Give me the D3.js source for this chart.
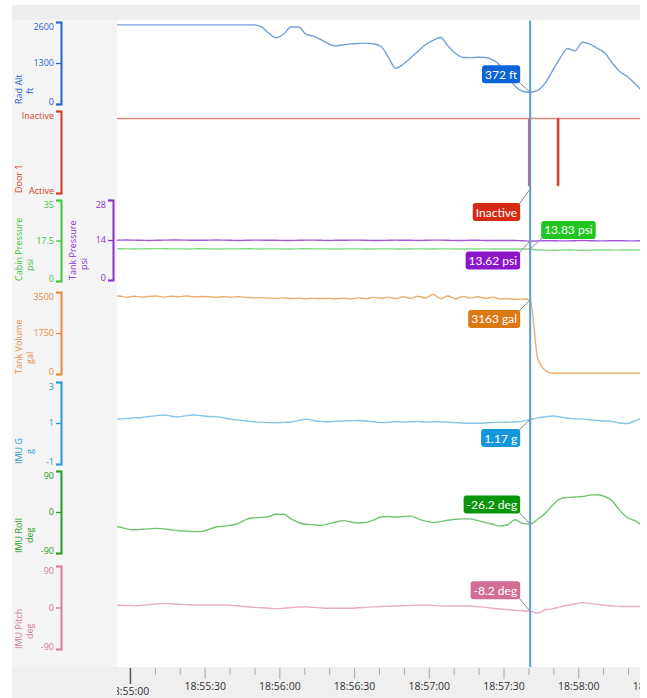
<!DOCTYPE html>
<html>
<head>
<meta charset="utf-8">
<script src="https://cdn.jsdelivr.net/npm/d3@7"></script>
<style>
  body { margin: 0; background: #fff; }
  svg { display: block; font-family: "Open Sans", sans-serif; }
</style>
</head>
<body>
<div id="chart"></div>
<script>
// ---- data (one sample every 3 s, first sample at 18:54:52.5) ----
const day = "2021-01-01T";
const sampleStart = "18:54:52.500";
const sampleStepMs = 3000;
const cursorTime = "18:57:40.500";
const viewStart = "18:54:54.600";
const viewEnd = "18:58:24.600";
const timeTicks = ["18:55:00", "18:55:30", "18:56:00", "18:56:30", "18:57:00", "18:57:30", "18:58:00", "18:58:30"];

const radAlt = [2510, 2510, 2510, 2510, 2510, 2510, 2510, 2510, 2510, 2510, 2510, 2510,
  2510, 2510, 2510, 2510, 2510, 2510, 2510, 2510, 2450, 2250, 2100, 2220,
  2440, 2440, 2210, 2150, 2040, 1910, 1840, 1880, 1905, 1920, 1930, 1910,
  1830, 1500, 1130, 1260, 1460, 1675, 1885, 2015, 2110, 1840, 1605, 1475,
  1470, 1480, 1475, 1400, 1220, 885, 565, 405, 372, 430, 660, 1055,
  1455, 1760, 1685, 1960, 1900, 1765, 1615, 1290, 1030, 870, 650, 410];

const doorTimes = ["18:54:50", "18:57:39.900", "18:57:40.300", "18:57:51.400", "18:57:51.800", "18:58:30"];
const doorStates = [1, 0, 1, 0, 1, 1];   // 1 = Inactive, 0 = Active
const doorStateNames = ["Active", "Inactive"];

const cabinPressure = [13.9, 13.95, 13.9, 13.85, 13.9, 13.95, 14.0, 13.95, 13.9, 13.9, 13.85, 13.9,
  13.95, 13.9, 13.85, 13.85, 13.9, 13.9, 13.95, 13.9, 13.85, 13.9, 13.9, 13.85,
  13.85, 13.9, 13.95, 13.9, 13.9, 13.85, 13.8, 13.85, 13.9, 13.9, 13.85, 13.85,
  13.9, 13.9, 13.85, 13.8, 13.85, 13.9, 13.85, 13.85, 13.9, 13.9, 13.85, 13.8,
  13.85, 13.85, 13.9, 13.85, 13.85, 13.8, 13.85, 13.85, 13.83, 13.4, 13.35, 13.3,
  13.35, 13.4, 13.35, 13.3, 13.35, 13.4, 13.4, 13.35, 13.35, 13.4, 13.35, 13.4];

const tankPressure = [13.9, 13.95, 14.0, 13.95, 13.9, 13.85, 13.9, 13.95, 14.0, 14.0, 13.95, 13.9,
  13.9, 13.95, 14.0, 13.95, 13.9, 13.85, 13.9, 13.95, 13.95, 13.9, 13.9, 13.85,
  13.85, 13.9, 13.95, 13.95, 13.9, 13.85, 13.9, 13.9, 13.95, 13.95, 13.9, 13.85,
  13.85, 13.9, 13.95, 13.9, 13.9, 13.85, 13.9, 13.95, 13.95, 13.9, 13.85, 13.85,
  13.9, 13.9, 13.85, 13.8, 13.85, 13.85, 13.8, 13.75, 13.62, 13.7, 13.75, 13.75,
  13.7, 13.7, 13.75, 13.8, 13.75, 13.7, 13.7, 13.75, 13.75, 13.7, 13.7, 13.75];

const tankVolume = [3290, 3330, 3270, 3320, 3280, 3310, 3330, 3280, 3320, 3300, 3330, 3290,
  3310, 3300, 3270, 3300, 3280, 3300, 3270, 3250, 3260, 3240, 3230, 3250,
  3220, 3240, 3210, 3230, 3220, 3230, 3210, 3240, 3200, 3250, 3220, 3270,
  3230, 3280, 3220, 3300, 3230, 3320, 3250, 3400, 3220, 3330, 3210, 3310,
  3240, 3300, 3230, 3280, 3200, 3210, 3190, 3200, 3163, 680, 160, 30,
  30, 30, 30, 30, 30, 30, 30, 30, 30, 30, 30, 30];

const imuG = [1.2, 1.2, 1.22, 1.25, 1.27, 1.32, 1.36, 1.39, 1.33, 1.3, 1.36, 1.39,
  1.36, 1.32, 1.31, 1.25, 1.18, 1.14, 1.1, 1.06, 1.03, 1.02, 1.015, 1.03,
  1.05, 1.12, 1.19, 1.12, 1.07, 1.06, 1.08, 1.1, 1.11, 1.12, 1.1, 1.06,
  1.02, 1.03, 1.06, 1.05, 1.06, 1.07, 1.05, 1.06, 1.05, 1.04, 1.02, 1.0,
  0.99, 0.985, 1.0, 1.03, 1.03, 1.04, 1.05, 1.09, 1.17, 1.25, 1.3, 1.34,
  1.3, 1.23, 1.21, 1.19, 1.16, 1.12, 1.1, 1.07, 1.0, 0.97, 1.1, 1.24];

const imuRoll = [-31, -33, -37, -39, -38, -37, -36, -37, -39, -41, -42, -43,
  -43, -38, -33, -31, -29, -25, -16, -13, -12, -10, -5, -5,
  -15, -23, -27, -28, -29, -26, -22, -19, -22, -24, -23, -18,
  -11, -10, -11, -10, -9, -15, -20, -23, -21, -18, -16, -15,
  -15, -19, -23, -27, -31, -28, -17, -25, -26.2, -16, -3, 15,
  29, 32, 33, 34, 37, 38, 34, 24, 3, -12, -19, -30];

const imuPitch = [5.4, 5, 4.3, 3.5, 4.5, 6, 7.6, 9, 8, 7.2, 6.2, 5.4,
  5.4, 5.4, 5.4, 5.4, 4.6, 3.1, 1.7, 0.3, -0.6, -1.6, -2.5, -1.5,
  -0.3, 1, 1.3, 0.2, -0.9, -1.7, -1.7, -1.7, -1.6, -0.7, 0.3, 1.3,
  2.1, 2.7, 3.2, 3.9, 4.5, 5, 5.2, 4.4, 3.6, 3.3, 3.3, 3.3,
  3.2, 1.7, 0.2, -1.6, -3.2, -4.9, -6.2, -7.2, -8.2, -12, -5.5, -3,
  1.5, 5, 8, 10.5, 9, 6.8, 5, 3.4, 2.3, 2.3, 2.3, 2.3];

// ---- layout ----
const W = 647, H = 698;
const plot = {left: 117, right: 640, top: 20.5, bottom: 667};

const parseT = s => new Date(day + s);
const t0 = parseT(sampleStart).getTime();
const cursor = parseT(cursorTime);

const panels = [
  {name: "Rad Alt", unit: "ft", data: radAlt, domain: [0, 2600], ticks: [0, 1300, 2600], top: 22, bottom: 104,
    axisX: 61, titleX: 22, axisColor: "#1f66cf", lineColor: "#78a0d6", boxColor: "#0d64d6",
    fmt: v => Math.round(v) + " ft", side: "left", dy: -18},
  {name: "Cabin Pressure", unit: "psi", data: cabinPressure, domain: [0, 35], ticks: [0, 17.5, 35], top: 200, bottom: 281,
    axisX: 61, titleX: 22, axisColor: "#3cc63c", lineColor: "#86d886", boxColor: "#20c520",
    fmt: v => v.toFixed(2) + " psi", side: "right", dy: -19},
  {name: "Tank Pressure", unit: "psi", data: tankPressure, domain: [0, 28], ticks: [0, 14, 28], top: 200, bottom: 280,
    axisX: 113, titleX: 76, axisColor: "#8a2fd0", lineColor: "#a159d8", boxColor: "#8c16c8",
    fmt: v => v.toFixed(2) + " psi", side: "left", dy: 19.5},
  {name: "Tank Volume", unit: "gal", data: tankVolume, domain: [0, 3500], ticks: [0, 1750, 3500], top: 292, bottom: 374,
    axisX: 61, titleX: 22, axisColor: "#e88c3a", lineColor: "#e9ae70", boxColor: "#dc7814",
    fmt: v => Math.round(v) + " gal", side: "left", dy: 19},
  {name: "IMU G", unit: "g", data: imuG, domain: [-1, 3], ticks: [-1, 1, 3], top: 382, bottom: 464,
    axisX: 61, titleX: 22, axisColor: "#249ad8", lineColor: "#88c4e6", boxColor: "#1496dc",
    fmt: v => v.toFixed(2) + " g", side: "left", dy: 18.5},
  {name: "IMU Roll", unit: "deg", data: imuRoll, domain: [-90, 90], ticks: [-90, 0, 90], top: 471, bottom: 553,
    axisX: 61, titleX: 22, axisColor: "#22a022", lineColor: "#74c274", boxColor: "#0a960a",
    fmt: v => v.toFixed(1) + " deg", side: "left", dy: -19.5},
  {name: "IMU Pitch", unit: "deg", data: imuPitch, domain: [-90, 90], ticks: [-90, 0, 90], top: 566, bottom: 649,
    axisX: 61, titleX: 22, axisColor: "#d9799e", lineColor: "#e8acc4", boxColor: "#d26e96",
    fmt: v => v.toFixed(1) + " deg", side: "left", dy: -21}
];

const door = {name: "Door 1", domain: [-0.11, 1.11], top: 111, bottom: 193, axisX: 61, titleX: 22,
  axisColor: "#d23c22", lineColor: "#e38478", spikeColor: "#cc3322", boxColor: "#d62a14", side: "left", dy: 27};

// ---- svg ----
const svg = d3.select("#chart").append("svg")
  .attr("width", W)
  .attr("height", H);

// backgrounds
svg.append("rect").attr("x", 12).attr("y", 5).attr("width", plot.right - 12).attr("height", plot.top - 5).attr("fill", "#eeeeee");
svg.append("rect").attr("x", 12).attr("y", plot.top).attr("width", plot.left - 12).attr("height", H - plot.top).attr("fill", "#f4f4f4");
svg.append("rect").attr("x", 12).attr("y", plot.bottom).attr("width", plot.right - 12).attr("height", H - plot.bottom).attr("fill", "#efefef");
svg.append("rect").attr("x", plot.left).attr("y", plot.top).attr("width", plot.right - plot.left).attr("height", plot.bottom - plot.top).attr("fill", "#ffffff");

svg.append("defs").append("clipPath")
  .attr("id", "plotclip")
  .append("rect")
  .attr("x", plot.left).attr("y", plot.top)
  .attr("width", plot.right - plot.left).attr("height", H - plot.top);

const x = d3.scaleTime()
  .domain([parseT(viewStart), parseT(viewEnd)])
  .range([plot.left, plot.right]);

const timeOf = i => new Date(t0 + i * sampleStepMs);
const cursorIdx = Math.round((cursor.getTime() - t0) / sampleStepMs);
const cx = x(cursor);

const lines = svg.append("g").attr("clip-path", "url(#plotclip)");

// continuous panels
panels.forEach(p => {
  p.y = d3.scaleLinear().domain(p.domain).range([p.bottom, p.top]);
  const line = d3.line()
    .x((d, i) => x(timeOf(i)))
    .y(d => p.y(d))
    .curve(d3.curveMonotoneX);
  lines.append("path")
    .attr("d", line(p.data))
    .attr("fill", "none")
    .attr("stroke", p.lineColor)
    .attr("stroke-width", 1.4);
});

// door (step series), active intervals drawn as solid spikes
door.y = d3.scaleLinear().domain(door.domain).range([door.bottom, door.top]);
const doorPts = d3.zip(doorTimes.map(parseT), doorStates);
const doorLine = d3.line()
  .x(d => x(d[0]))
  .y(d => door.y(d[1]))
  .curve(d3.curveStepAfter);
lines.append("path")
  .attr("d", doorLine(doorPts))
  .attr("fill", "none")
  .attr("stroke", door.lineColor)
  .attr("stroke-width", 1.5);
const activeSpans = d3.pairs(doorPts).filter(([a]) => a[1] === 0);
lines.selectAll(".spike")
  .data(activeSpans)
  .join("rect")
  .attr("class", "spike")
  .attr("x", d => x(d[0][0]))
  .attr("width", d => Math.max(2, x(d[1][0]) - x(d[0][0])))
  .attr("y", door.y(1))
  .attr("height", door.y(0) - door.y(1))
  .attr("fill", door.spikeColor);

// cursor
svg.append("line")
  .attr("x1", cx).attr("x2", cx)
  .attr("y1", plot.top).attr("y2", plot.bottom)
  .attr("stroke", "#5b9bd8")
  .attr("stroke-width", 2);

// value callouts
function callout(px, py, text, color, side, dy) {
  const g = svg.append("g");
  const leader = g.append("line").attr("stroke", "#8a8a8a").attr("stroke-width", 1);
  const box = g.append("rect").attr("rx", 3).attr("ry", 3).attr("fill", color);
  const t = g.append("text")
    .text(text)
    .attr("fill", "#fff")
    .style("font-family", "Lato, sans-serif")
    .style("font-size", "12px");
  const w = t.node().getComputedTextLength() + 6, h = 18;
  const bx = side === "left" ? px - 10 - w : px + 11;
  const by = py + dy - h / 2;
  box.attr("x", bx).attr("y", by).attr("width", w).attr("height", h);
  t.attr("x", bx + 3).attr("y", by + 13.5);
  const ex = side === "left" ? bx + w - 1 : bx + 1;
  const ey = dy < 0 ? by + h - 1 : by + 1;
  leader.attr("x1", px).attr("y1", py).attr("x2", ex).attr("y2", ey);
}

panels.forEach(p => {
  const v = p.data[cursorIdx];
  callout(cx, p.y(v), p.fmt(v), p.boxColor, p.side, p.dy);
});
const doorNow = doorStates[d3.bisectRight(doorTimes.map(parseT), cursor) - 1];
callout(cx, door.bottom - 4, doorStateNames[doorNow], door.boxColor, door.side, door.dy - 4);

// left axes
function styleAxis(g, color, lo, hi) {
  g.select(".domain").attr("stroke", color).attr("stroke-width", 2);
  g.selectAll(".tick line").attr("stroke", color).attr("stroke-width", 1.3);
  g.selectAll(".tick text")
    .attr("fill", color)
    .style("font-family", "'Open Sans', sans-serif")
    .style("font-size", "9px")
    .attr("dy", d => d === hi ? "0.8em" : d === lo ? "0em" : "0.32em");
}

function axisTitle(p) {
  svg.append("text")
    .attr("transform", `translate(${p.titleX},${p.bottom}) rotate(-90)`)
    .attr("fill", p.axisColor)
    .style("font-size", "9px")
    .text(p.name);
  if (p.unit) {
    svg.append("text")
      .attr("transform", `translate(${p.titleX + 11},${p.bottom - 10}) rotate(-90)`)
      .attr("fill", p.axisColor)
      .style("font-size", "9px")
      .text(p.unit);
  }
}

panels.forEach(p => {
  const g = svg.append("g").attr("transform", `translate(${p.axisX},0)`)
    .call(d3.axisLeft(p.y).tickValues(p.ticks).tickSize(5).tickSizeOuter(5).tickPadding(2)
      .tickFormat(d => String(d)));
  styleAxis(g, p.axisColor, p.domain[0], p.domain[1]);
  axisTitle(p);
});

const gDoor = svg.append("g").attr("transform", `translate(${door.axisX},0)`)
  .call(d3.axisLeft(door.y).tickValues(door.domain).tickSize(5).tickSizeOuter(5).tickPadding(2)
    .tickFormat((d, i) => doorStateNames[i]));
styleAxis(gDoor, door.axisColor, door.domain[0], door.domain[1]);
axisTitle(door);

// time axis
const xAxis = svg.append("g").attr("clip-path", "url(#plotclip)");
const minor = d3.timeSecond.every(10).range(parseT(timeTicks[0]), d3.timeSecond.offset(parseT(viewEnd), 10));
const labelled = timeTicks.map(parseT);
minor.forEach(t => {
  const isLab = labelled.some(l => +l === +t);
  const isFirst = +t === +labelled[0];
  xAxis.append("line")
    .attr("x1", x(t)).attr("x2", x(t))
    .attr("y1", plot.bottom + 1)
    .attr("y2", plot.bottom + (isFirst ? 17 : isLab ? 12 : 8))
    .attr("stroke", isFirst ? "#555" : "#aaa")
    .attr("stroke-width", isFirst ? 1.5 : 1);
});
labelled.forEach((t, i) => {
  xAxis.append("text")
    .attr("x", x(t) - (i === 0 ? 2 : 0))
    .attr("y", i === 0 ? 695 : 690)
    .attr("text-anchor", "middle")
    .attr("fill", "#333")
    .style("font-size", "10.5px")
    .text(timeTicks[i]);
});
</script>
</body>
</html>
